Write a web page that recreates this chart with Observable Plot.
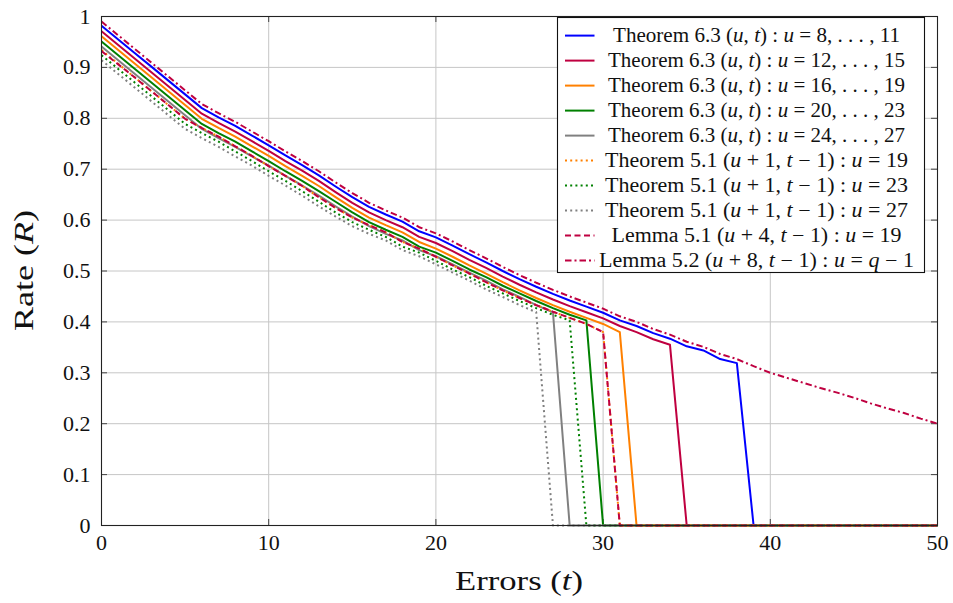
<!DOCTYPE html>
<html><head><meta charset="utf-8">
<script src="https://cdn.jsdelivr.net/npm/d3@7"></script>
<script src="https://cdn.jsdelivr.net/npm/@observablehq/plot@0.6"></script>
<style>
html,body{margin:0;padding:0;background:#fff}
#chart svg{display:block}
</style></head>
<body><div id="chart"></div>
<script>
// ---------------- data ----------------
const tValues = [0,1,2,3,4,5,6,7,8,9,10,11,12,13,14,15,16,17,18,19,20,21,22,23,24,25,26,27,28,29,30,31,32,33,34,35,36,37,38,39,40,41,42,43,44,45,46,47,48,49,50];
const xTicks = [0,10,20,30,40,50];
const yTicks = [0,0.1,0.2,0.3,0.4,0.5,0.6,0.7,0.8,0.9,1];

const thm63_u8_11 = [0.982,0.955,0.928,0.901,0.874,0.847,0.820,0.802,0.785,0.766,0.747,0.727,0.708,0.688,0.666,0.645,0.626,0.611,0.597,0.578,0.566,0.550,0.533,0.517,0.500,0.484,0.469,0.455,0.442,0.430,0.418,0.403,0.392,0.378,0.367,0.352,0.344,0.327,0.319,
  0,0,0,0,0,0, 0,0,0,0,0,0];
const thm63_u12_15 = [0.971,0.944,0.917,0.890,0.863,0.836,0.809,0.791,0.774,0.755,0.736,0.716,0.697,0.677,0.655,0.634,0.615,0.600,0.586,0.567,0.555,0.539,0.522,0.506,0.489,0.473,0.458,0.444,0.431,0.419,0.407,0.392,0.380,0.366,0.355,
  0,0,0,0,0,0,0,0, 0,0,0,0,0,0,0,0];
const thm63_u16_19 = [0.961,0.934,0.907,0.880,0.853,0.826,0.799,0.781,0.764,0.745,0.726,0.706,0.687,0.667,0.645,0.624,0.605,0.590,0.576,0.557,0.544,0.528,0.511,0.495,0.478,0.462,0.447,0.433,0.420,0.408,0.396,0.380,
  0,0,0,0,0,0,0,0,0,0, 0,0,0,0,0,0,0,0,0];
const thm63_u20_23 = [0.951,0.924,0.897,0.870,0.843,0.816,0.789,0.771,0.754,0.735,0.716,0.696,0.677,0.657,0.636,0.615,0.596,0.581,0.567,0.548,0.536,0.520,0.503,0.488,0.471,0.456,0.441,0.427,0.414,0.403,
  0,0,0,0,0,0,0,0,0,0, 0,0,0,0,0,0,0,0,0,0,0];
const thm63_u24_27 = [0.941,0.914,0.887,0.860,0.833,0.806,0.779,0.761,0.744,0.725,0.707,0.687,0.668,0.648,0.627,0.607,0.588,0.573,0.560,0.541,0.529,0.513,0.497,0.481,0.464,0.449,0.433,0.419,
  0,0,0,0,0,0,0,0,0,0, 0,0,0,0,0,0,0,0,0,0, 0,0,0];
const thm51_u19 = [0.934,0.907,0.880,0.853,0.826,0.799,0.781,0.764,0.745,0.726,0.706,0.687,0.667,0.645,0.624,0.605,0.590,0.576,0.557,0.544,0.528,0.511,0.495,0.478,0.462,0.447,0.433,0.420,0.408,0.396,0.380,
  0,0,0,0,0,0,0,0,0,0, 0,0,0,0,0,0,0,0,0,0];
const thm51_u23 = [0.924,0.897,0.870,0.843,0.816,0.789,0.771,0.754,0.735,0.716,0.696,0.677,0.657,0.636,0.615,0.596,0.581,0.567,0.548,0.536,0.520,0.503,0.488,0.471,0.456,0.441,0.427,0.414,0.403,
  0,0,0,0,0,0,0,0,0,0, 0,0,0,0,0,0,0,0,0,0, 0,0];
const thm51_u27 = [0.914,0.887,0.860,0.833,0.806,0.779,0.761,0.744,0.725,0.707,0.687,0.668,0.648,0.627,0.607,0.588,0.573,0.560,0.541,0.529,0.513,0.497,0.481,0.464,0.449,0.433,0.419,
  0,0,0,0,0,0,0,0,0,0, 0,0,0,0,0,0,0,0,0,0, 0,0,0,0];
const lem51_u19 = [0.932,0.906,0.880,0.853,0.826,0.799,0.781,0.764,0.745,0.726,0.706,0.687,0.667,0.645,0.624,0.605,0.590,0.576,0.557,0.544,0.528,0.511,0.495,0.478,0.462,0.447,0.433,0.420,0.408,0.396,0.380,
  0,0,0,0,0,0,0,0,0,0, 0,0,0,0,0,0,0,0,0,0];
const lem52_uq1 = [0.990,0.963,0.936,0.909,0.882,0.855,0.828,0.810,0.793,0.774,0.755,0.735,0.716,0.696,0.674,0.653,0.634,0.619,0.605,0.586,0.574,0.558,0.541,0.525,0.508,0.492,0.477,0.463,0.450,0.438,0.426,0.411,0.400,0.386,0.375,0.361,0.351,0.337,0.327,0.313,0.300,0.290,0.280,0.270,0.261,0.251,0.240,0.230,0.221,0.210,0.200];

// ---------------- styling ----------------
const FONT = "'Liberation Serif', 'DejaVu Serif', serif";
const RED = "#bf0040";
const series = [
  {values: thm63_u8_11,  color: "#0000ff", dash: null,
   label: [["Theorem 6.3 ("],["u",1],[", "],["t",1],[") : "],["u",1],[" = 8, . . . , 11"]], w: 287},
  {values: thm63_u12_15, color: RED, dash: null,
   label: [["Theorem 6.3 ("],["u",1],[", "],["t",1],[") : "],["u",1],[" = 12, . . . , 15"]], w: 297},
  {values: thm63_u16_19, color: "#ff8000", dash: null,
   label: [["Theorem 6.3 ("],["u",1],[", "],["t",1],[") : "],["u",1],[" = 16, . . . , 19"]], w: 297},
  {values: thm63_u20_23, color: "#008000", dash: null,
   label: [["Theorem 6.3 ("],["u",1],[", "],["t",1],[") : "],["u",1],[" = 20, . . . , 23"]], w: 297},
  {values: thm63_u24_27, color: "#808080", dash: null,
   label: [["Theorem 6.3 ("],["u",1],[", "],["t",1],[") : "],["u",1],[" = 24, . . . , 27"]], w: 297},
  {values: thm51_u19, color: "#ff8000", dash: "2,3.2",
   label: [["Theorem 5.1 ("],["u",1],[" + 1, "],["t",1],[" − 1) : "],["u",1],[" = 19"]], w: 303},
  {values: thm51_u23, color: "#008000", dash: "2,3.2",
   label: [["Theorem 5.1 ("],["u",1],[" + 1, "],["t",1],[" − 1) : "],["u",1],[" = 23"]], w: 303},
  {values: thm51_u27, color: "#808080", dash: "2,3.2",
   label: [["Theorem 5.1 ("],["u",1],[" + 1, "],["t",1],[" − 1) : "],["u",1],[" = 27"]], w: 303},
  {values: lem51_u19, color: RED, dash: "6,3.5",
   label: [["Lemma 5.1 ("],["u",1],[" + 4, "],["t",1],[" − 1) : "],["u",1],[" = 19"]], w: 290},
  {values: lem52_uq1, color: RED, dash: "6.5,3,2,3",
   label: [["Lemma 5.2 ("],["u",1],[" + 8, "],["t",1],[" − 1) : "],["u",1],[" = "],["q",1],[" − 1"]], w: 315}
];

const W = 953, H = 603;
const mL = 101, mR = 16, mT = 16, mB = 78;
const innerW = W - mL - mR, innerH = H - mT - mB;
const LW = 2;

const lineMarks = series.map(s => {
  const rows = tValues.map((t, i) => ({t, r: s.values[i]}));
  return Plot.line(rows, {x: "t", y: "r", stroke: s.color, strokeWidth: LW,
    strokeDasharray: s.dash ?? undefined, strokeLinecap: "butt", strokeLinejoin: "round"});
});

const TICK = "#444";
const svg = Plot.plot({
  width: W, height: H,
  marginLeft: mL, marginRight: mR, marginTop: mT, marginBottom: mB,
  style: {fontFamily: FONT, fontSize: "22px", background: "#fff", color: "#111"},
  x: {domain: [0, 50], ticks: xTicks},
  y: {domain: [0, 1], ticks: yTicks},
  marks: [
    Plot.gridX(xTicks, {stroke: "#c6c6c6", strokeOpacity: 1, strokeWidth: 1}),
    Plot.gridY(yTicks, {stroke: "#c6c6c6", strokeOpacity: 1, strokeWidth: 1}),
    // inward tick marks on all four sides
    Plot.ruleX(xTicks, {insetTop: innerH - 6, stroke: TICK}),
    Plot.ruleX(xTicks, {insetBottom: innerH - 6, stroke: TICK}),
    Plot.ruleY(yTicks, {insetRight: innerW - 6, stroke: TICK}),
    Plot.ruleY(yTicks, {insetLeft: innerW - 6, stroke: TICK}),
    ...lineMarks,
    Plot.frame({stroke: "#222", strokeWidth: 1.1}),
    Plot.axisX(xTicks, {tickSize: 0, tickPadding: 9, label: null, tickFormat: d => String(d), fill: "#111"}),
    Plot.axisY(yTicks, {tickSize: 0, tickPadding: 11, label: null, tickFormat: d => String(d), fill: "#111"})
  ]
});
document.getElementById("chart").appendChild(svg);

// ---------------- axis titles & legend (rich text with italics) ----------------
const root = d3.select(svg);
function richText(g, x, y, parts, size, width, transform) {
  const t = g.append("text")
    .attr("x", x).attr("y", y)
    .attr("text-anchor", "middle")
    .attr("fill", "#111")
    .style("font-family", FONT)
    .style("font-size", size + "px");
  if (transform) t.attr("transform", transform);
  parts.forEach(([s, it]) => t.append("tspan").text(s).style("font-style", it ? "italic" : "normal"));
  if (width) t.attr("textLength", width).attr("lengthAdjust", "spacingAndGlyphs");
  return t;
}
const titles = root.append("g");
richText(titles, (mL + W - mR) / 2, 590, [["Errors ("],["t",1],[")"]], 28, 128);
richText(titles, 0, 0, [["Rate ("],["R",1],[")"]], 28, 121, `translate(33,${(mT + H - mB) / 2}) rotate(-90)`);

const lg = root.append("g");
const box = {x: 557.5, y: 17.5, w: 367, h: 255};
lg.append("rect").attr("x", box.x).attr("y", box.y).attr("width", box.w).attr("height", box.h)
  .attr("fill", "#fff").attr("stroke", "#111").attr("stroke-width", 1.1);
series.forEach((s, i) => {
  const base = 42.3 + i * 25;
  const ly = base - 6.7;
  lg.append("line").attr("x1", 565).attr("x2", 594.5).attr("y1", ly).attr("y2", ly)
    .attr("stroke", s.color).attr("stroke-width", LW)
    .attr("stroke-dasharray", s.dash ?? null);
  richText(lg, 756.5, base, s.label, 20, s.w);
});
</script>
</body></html>
